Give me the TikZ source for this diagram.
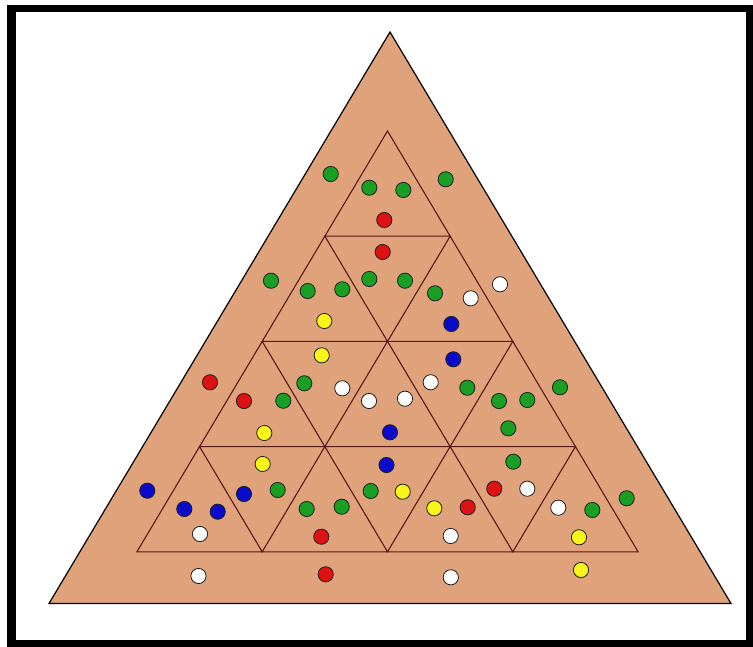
\documentclass[tikz,border=0pt]{standalone}
\begin{document}
\begin{tikzpicture}[x=1pt,y=-1pt,
  tan/.style={fill={rgb,255:red,224;green,162;blue,123}},
  gridline/.style={draw={rgb,255:red,85;green,25;blue,25},line width=1.1pt,line join=miter},
  dot/.style={draw={rgb,255:red,30;green,30;blue,30},line width=0.8pt},
  gdot/.style={dot,fill={rgb,255:red,25;green,160;blue,35}},
  rdot/.style={dot,fill={rgb,255:red,222;green,18;blue,18}},
  bdot/.style={dot,fill={rgb,255:red,10;green,10;blue,205}},
  ydot/.style={dot,fill={rgb,255:red,250;green,245;blue,25}},
  wdot/.style={dot,fill=white}]
\useasboundingbox (0,0) rectangle (753,647);
\fill[white] (0,0) rectangle (753,647);
% frame
\fill[black] (7,5) rectangle (753,647);
\fill[white] (16,12) rectangle (746,640);
% outer triangle
\filldraw[tan,draw=black,line width=1.2pt,line join=miter] (390,32) -- (49,603.5) -- (731,603.5) -- cycle;
% inner grid of small upward triangles
\foreach \k in {1,...,4}{
  \pgfmathtruncatemacro{\km}{\k-1}
  \foreach \i in {0,...,\km}{
    \pgfmathsetmacro{\ax}{387.5+62.65*(2*\i-\km)}
    \pgfmathsetmacro{\ay}{131+105.2*\km}
    \draw[gridline] (\ax,\ay) -- ({\ax-62.65},{\ay+105.2}) -- ({\ax+62.65},{\ay+105.2}) -- cycle;
  }
}
\def\r{7.6}
% green
\foreach \p in {(330.7,174),(369.3,187.7),(403.3,190),(445.7,179.3),(271,280.7),(307.7,291),(342.3,289.3),(369.3,279),(405,280.7),(435,293.3),(283.3,400.7),(304.3,383.3),(467.3,387.7),(499,401),(527.3,400),(560,387.3),(508.3,428.3),(277.7,490),(306.7,509),(341.7,506.7),(370.7,491),(513.3,461.7),(626.7,498.3),(592.3,510)}
  \path[gdot] \p circle (\r);
% red
\foreach \p in {(384.3,220),(382.7,252),(210,382.3),(244,401),(321.3,536.7),(494.3,488.7),(467.7,507.3),(325.7,574.3)}
  \path[rdot] \p circle (\r);
% blue
\foreach \p in {(451.3,324),(453.3,359.3),(390,432.3),(147.3,490.7),(184.3,509),(217.7,511.7),(244,494),(386.5,465)}
  \path[bdot] \p circle (\r);
% yellow
\foreach \p in {(324.3,321),(321.7,355.3),(264.3,433),(262.7,464),(402.7,491.7),(434.3,508.3),(579,537.3),(581,570)}
  \path[ydot] \p circle (\r);
% white
\foreach \p in {(470.7,298.3),(500,284.3),(342.3,388.3),(369,401),(405,398.7),(430.7,382.3),(200,534),(527.3,488.7),(558.3,507.7),(450.7,536),(198.5,576),(450.8,577.3)}
  \path[wdot] \p circle (\r);
\end{tikzpicture}
\end{document}
